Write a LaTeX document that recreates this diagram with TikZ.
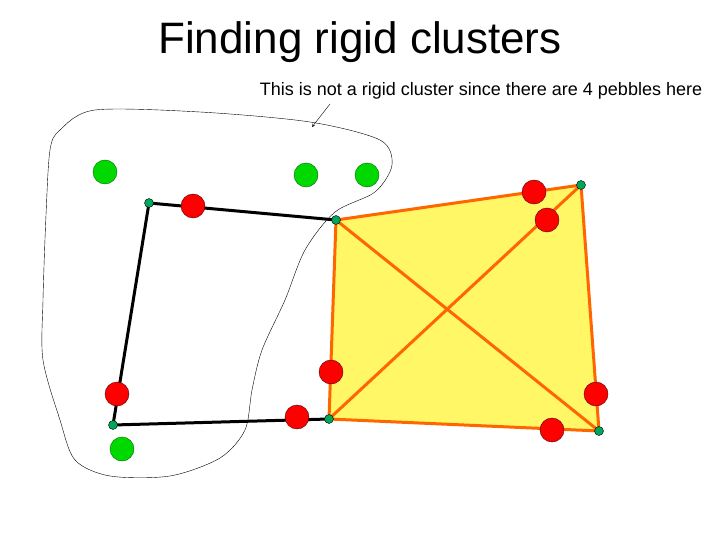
\documentclass[tikz,border=0pt]{standalone}
\usepackage{fontspec}
\setmainfont{Liberation Sans}
\begin{document}
\begin{tikzpicture}[x=1pt,y=-1pt,
 tl/.style={circle,fill=teal!70!green,draw=black,line width=0.4pt,inner sep=0,minimum size=9pt},
 rd/.style={circle,fill=red,draw=black!70!red,inner sep=0,minimum size=24pt},
 gr/.style={circle,fill=green!85!black,draw=green!40!black,inner sep=0,minimum size=24pt},
 blk/.style={line width=3pt,black},
 org/.style={line width=3pt,orange!80!red}]
\useasboundingbox (0,0) rectangle (720,540);
\coordinate (a) at (149,203); \coordinate (b) at (336,220); \coordinate (c) at (581,185);
\coordinate (d) at (113,425); \coordinate (e) at (329,419); \coordinate (f) at (599,431);
\fill[yellow!60] (b)--(c)--(f)--(e)--cycle;
\draw[org] (b)--(c)--(f)--(e)--cycle (b)--(f) (c)--(e);
\draw[blk] (b)--(a)--(d)--(e);
\draw[thin] plot[smooth cycle] coordinates {(60,130) (95,110) (200,112) (310,122) (380,140) (392,165) (375,192) (335,212) (305,250) (285,300) (262,350) (252,390) (245,430) (220,458) (170,476) (110,476) (75,460) (60,420) (43,360) (43,300) (46,215) (50,150)};
\foreach \n/\p in {t1/a,t2/b,t3/c,t4/d,t5/e,t6/f} \node[tl] (\n) at (\p) {};
\foreach \n/\x/\y in {r1/193/206,r2/534/192,r3/547/220,r4/331/372,r5/297/417,r6/596/394,r7/552/430,r8/117/394} \node[rd] (\n) at (\x,\y) {};
\foreach \n/\x/\y in {g1/105/172,g2/306/175,g3/367/175,g4/122/449} \node[gr] (\n) at (\x,\y) {};
\node[font=\fontsize{44}{50}\selectfont] (title) at (360,42) {Finding rigid clusters};
\node[font=\fontsize{18}{21}\selectfont] (note) at (481,91) {This is not a rigid cluster since there are 4 pebbles here};
\coordinate (tip) at (312,127);
\draw[-stealth] (330,104) -- (tip);
\end{tikzpicture}
\end{document}
